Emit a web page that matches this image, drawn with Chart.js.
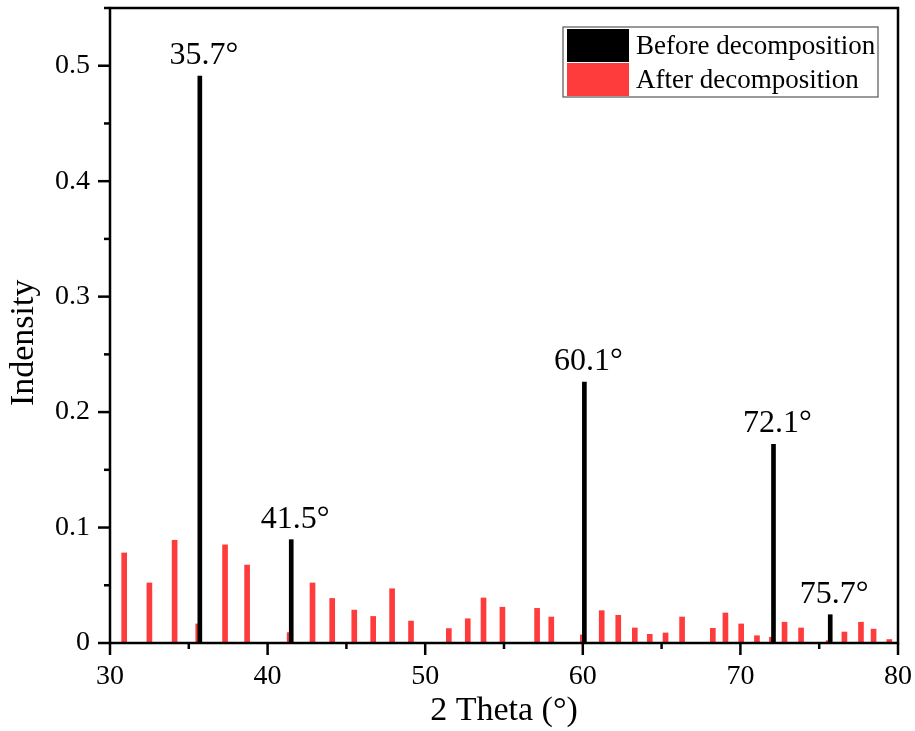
<!DOCTYPE html>
<html>
<head>
<meta charset="utf-8">
<script src="https://cdn.jsdelivr.net/npm/chart.js@4/dist/chart.umd.min.js"></script>
<style>
    html, body { margin: 0; padding: 0; background: #fff; }
    #wrap { width: 915px; height: 731px; }
</style>
</head>
<body>
<div id="wrap"><canvas id="xrdChart" width="915" height="731"></canvas></div>
<script>
// Peak positions (2 theta, degrees) and intensities
const beforeTheta = [35.7, 41.5, 60.1, 72.1, 75.7];
const beforeIntensity = [0.491, 0.0895, 0.226, 0.172, 0.0245];
const peakLabels = ['35.7°', '41.5°', '60.1°', '72.1°', '75.7°'];

const afterTheta = [30.9, 32.5, 34.1, 35.6, 37.3, 38.7, 41.4, 42.85, 44.1, 45.5,
    46.7, 47.9, 49.1, 51.5, 52.7, 53.7, 54.9, 57.1, 58.0, 60.0,
    61.2, 62.25, 63.3, 64.25, 65.25, 66.3, 68.25, 69.05, 70.05, 71.05,
    72.0, 72.8, 73.85, 75.6, 76.6, 77.65, 78.45, 79.45];
const afterIntensity = [0.078, 0.052, 0.089, 0.0165, 0.085, 0.0675, 0.009, 0.052, 0.0386, 0.0285,
    0.023, 0.047, 0.019, 0.0125, 0.021, 0.039, 0.031, 0.030, 0.0225, 0.007,
    0.028, 0.024, 0.013, 0.0075, 0.0087, 0.0225, 0.0127, 0.026, 0.0165, 0.0063,
    0.005, 0.018, 0.013, 0.002, 0.0095, 0.018, 0.012, 0.003];

const xTicks = { min: 30, max: 80, step: 5, labelEvery: 10 };
const yTicks = { min: 0, max: 0.55, step: 0.05 };
const yTitle = 'Indensity';

const serif = '"Liberation Serif", "Times New Roman", serif';
const redColor = 'rgb(255, 60, 60)';

const toPoints = (xs, ys) => xs.map((x, i) => ({ x: x, y: ys[i] }));

// frame, tick marks, y title, peak labels and legend box
const decorPlugin = {
    id: 'decor',
    afterDatasetsDraw(chart) {
        const ctx = chart.ctx;
        const area = chart.chartArea;
        const xs = chart.scales.x;
        const ys = chart.scales.y;
        ctx.save();
        ctx.strokeStyle = '#000';
        ctx.lineWidth = 2.5;
        ctx.strokeRect(area.left, area.top, area.right - area.left, area.bottom - area.top);

        // ticks, long on labelled values and short in between
        xs.ticks.forEach(t => {
            const px = xs.getPixelForValue(t.value);
            const len = Math.round(t.value) % 10 === 0 ? 12 : 6;
            ctx.beginPath();
            ctx.moveTo(px, area.bottom);
            ctx.lineTo(px, area.bottom + len);
            ctx.stroke();
        });
        ys.ticks.forEach(t => {
            const py = ys.getPixelForValue(t.value);
            const len = Math.round(t.value * 100) % 10 === 0 ? 12 : 6;
            ctx.beginPath();
            ctx.moveTo(area.left, py);
            ctx.lineTo(area.left - len, py);
            ctx.stroke();
        });

        // y axis title, a bit below the middle of the axis
        ctx.fillStyle = '#000';
        ctx.font = '34px ' + serif;
        ctx.textAlign = 'center';
        ctx.textBaseline = 'middle';
        ctx.save();
        ctx.translate(24, ys.getPixelForValue(0.26));
        ctx.rotate(-Math.PI / 2);
        ctx.fillText(yTitle, 0, 0);
        ctx.restore();

        // peak labels above the black lines
        const meta = chart.getDatasetMeta(0);
        ctx.font = '32px ' + serif;
        ctx.textBaseline = 'alphabetic';
        meta.data.forEach((bar, i) => {
            ctx.fillText(peakLabels[i], bar.x + 4, bar.y - 12);
        });

        // legend
        const boxRight = area.right - 20;
        const boxTop = area.top + 19;
        const boxW = 315, rowH = 34;
        const boxLeft = boxRight - boxW;
        ctx.fillStyle = '#fff';
        ctx.fillRect(boxLeft, boxTop, boxW, rowH * 2 + 2);
        ctx.lineWidth = 1.2;
        ctx.strokeStyle = '#555';
        ctx.strokeRect(boxLeft, boxTop, boxW, rowH * 2 + 2);
        ctx.font = '27px ' + serif;
        ctx.textAlign = 'left';
        ctx.textBaseline = 'middle';
        chart.data.datasets.forEach((ds, i) => {
            const y0 = boxTop + 2 + i * rowH;
            ctx.fillStyle = ds.backgroundColor;
            ctx.fillRect(boxLeft + 4, y0, 62, rowH - 1);
            ctx.fillStyle = '#000';
            ctx.fillText(ds.label, boxLeft + 73, y0 + rowH / 2 + 1);
        });
        ctx.restore();
    }
};

const ctx = document.getElementById('xrdChart').getContext('2d');
new Chart(ctx, {
    type: 'bar',
    data: {
        datasets: [{
            label: 'Before decomposition',
            data: toPoints(beforeTheta, beforeIntensity),
            backgroundColor: '#000',
            barThickness: 4,
            order: 0
        }, {
            label: 'After decomposition',
            data: toPoints(afterTheta, afterIntensity),
            backgroundColor: redColor,
            barThickness: 5,
            order: 1
        }]
    },
    options: {
        responsive: false,
        animation: false,
        events: [],
        grouped: false,
        layout: { autoPadding: false, padding: { top: 8, right: 17, left: 0, bottom: 0 } },
        plugins: {
            legend: { display: false },
            tooltip: { enabled: false }
        },
        scales: {
            x: {
                type: 'linear',
                offset: false,
                min: xTicks.min,
                max: xTicks.max,
                grid: { display: false, drawTicks: false },
                border: { display: false },
                ticks: {
                    stepSize: xTicks.step,
                    padding: 17,
                    maxRotation: 0,
                    autoSkip: false,
                    color: '#000',
                    font: { family: serif, size: 28 },
                    callback: v => (Math.round(v) % xTicks.labelEvery === 0 ? String(v) : '')
                },
                title: {
                    display: true,
                    text: '2 Theta (°)',
                    color: '#000',
                    font: { family: serif, size: 34 },
                    padding: { top: 0, bottom: 0 }
                },
                afterFit: scale => {
                    scale.height = 88;
                    scale.paddingLeft = 0;
                    scale.paddingRight = 0;
                }
            },
            y: {
                min: yTicks.min,
                max: yTicks.max,
                grid: { display: false, drawTicks: false },
                border: { display: false },
                ticks: {
                    stepSize: yTicks.step,
                    padding: 20,
                    autoSkip: false,
                    color: '#000',
                    font: { family: serif, size: 28 },
                    callback: v => {
                        const k = Math.round(v * 100);
                        if (k % 10 !== 0) return '';
                        return k === 0 ? '0' : (k / 100).toFixed(1);
                    }
                },
                afterFit: scale => {
                    scale.width = 110;
                    scale.paddingTop = 0;
                    scale.paddingBottom = 0;
                }
            }
        }
    },
    plugins: [decorPlugin]
});
</script>
</body>
</html>
